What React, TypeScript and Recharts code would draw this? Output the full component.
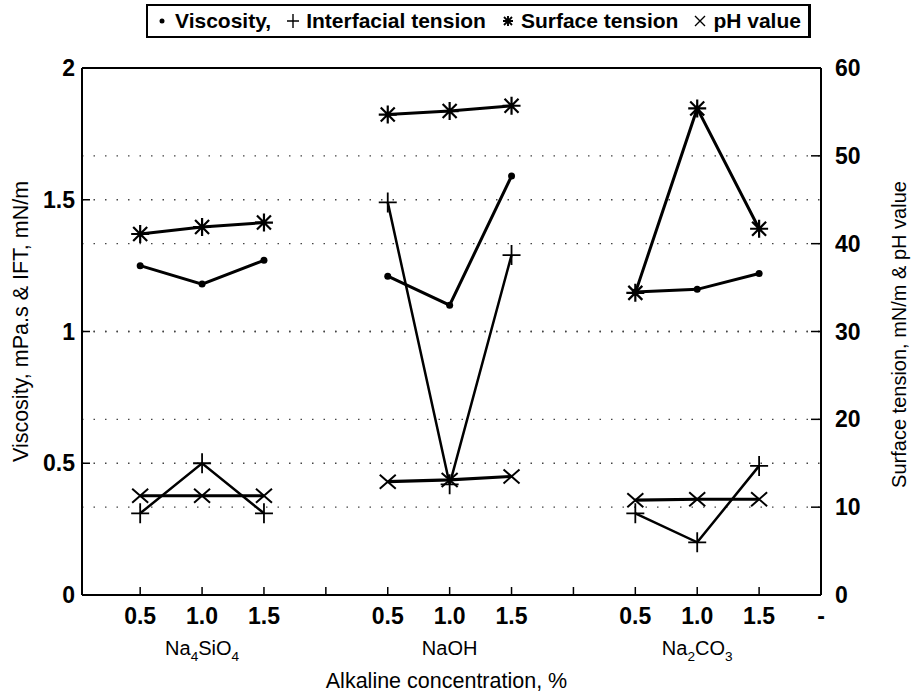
import React from 'react';
import { LineChart, Line, XAxis, YAxis, CartesianGrid, ReferenceLine, Legend } from 'recharts';

const FONT = "'Liberation Sans', Arial, Helvetica, sans-serif";

// ---- data ----
const concentrationLabels = ['0.5', '1.0', '1.5'];
const alkaliNames = ['Na4SiO4', 'NaOH', 'Na2CO3'];
const viscosity = [
  [1.25, 1.18, 1.27],
  [1.21, 1.1, 1.59],
  [1.15, 1.16, 1.22],
];
const interfacialTension = [
  [0.31, 0.5, 0.31],
  [1.49, 0.42, 1.29],
  [0.31, 0.2, 0.49],
];
const surfaceTension = [
  [41.1, 41.9, 42.4],
  [54.7, 55.1, 55.7],
  [34.4, 55.4, 41.7],
];
const phValue = [
  [11.3, 11.3, 11.3],
  [12.9, 13.1, 13.5],
  [10.8, 10.9, 10.9],
];
const leftTicks = [0, 0.5, 1, 1.5, 2];
const rightTicks = [0, 10, 20, 30, 40, 50, 60];
const endTickLabel = '-';

// ---- derived table ----
type Row = { x: number; visc: number | null; ift: number | null; st: number | null; ph: number | null };
const data: Row[] = [];
const xTickLabels: Record<number, string> = {};
const groupCenters: Record<number, string> = {};
alkaliNames.forEach((name, g) => {
  concentrationLabels.forEach((c, i) => {
    const x = g * 4 + i + 1;
    xTickLabels[x] = c;
    data.push({
      x,
      visc: viscosity[g][i],
      ift: interfacialTension[g][i],
      st: surfaceTension[g][i],
      ph: phValue[g][i],
    });
  });
  groupCenters[g * 4 + 2] = name;
  const gap = g * 4 + 4;
  xTickLabels[gap] = gap === alkaliNames.length * 4 ? endTickLabel : '';
  if (g < alkaliNames.length - 1) data.push({ x: gap, visc: null, ift: null, st: null, ph: null });
});
const xTicks = Object.keys(xTickLabels).map(Number).sort((a, b) => a - b);

// ---- helpers ----
function chem(name: string, fs: number) {
  const parts = name.split(/(\d+)/).filter((p) => p.length > 0);
  const out: React.ReactNode[] = [];
  let shifted = false;
  parts.forEach((p, k) => {
    if (/^\d+$/.test(p)) {
      out.push(
        <tspan key={k} dy={fs * 0.3} fontSize={fs * 0.68}>
          {p}
        </tspan>
      );
      shifted = true;
    } else {
      out.push(
        <tspan key={k} dy={shifted ? -fs * 0.3 : 0}>
          {p}
        </tspan>
      );
      shifted = false;
    }
  });
  return out;
}

type Kind = 'dot' | 'plus' | 'star' | 'cross';

function markerShape(kind: Kind, cx: number, cy: number, key?: string) {
  if (kind === 'dot') return <circle key={key} cx={cx} cy={cy} r={3.5} fill="#000" />;
  if (kind === 'plus')
    return (
      <path key={key} d={`M${cx - 9},${cy}H${cx + 9}M${cx},${cy - 10}V${cy + 10}`} stroke="#000" strokeWidth={1.8} fill="none" />
    );
  if (kind === 'cross')
    return (
      <path key={key} d={`M${cx - 8},${cy - 7}L${cx + 8},${cy + 7}M${cx + 8},${cy - 7}L${cx - 8},${cy + 7}`} stroke="#000" strokeWidth={2} fill="none" />
    );
  return (
    <path
      key={key}
      d={`M${cx - 9},${cy}H${cx + 9}M${cx},${cy - 9}V${cy + 9}M${cx - 7},${cy - 7}L${cx + 7},${cy + 7}M${cx + 7},${cy - 7}L${cx - 7},${cy + 7}`}
      stroke="#000"
      strokeWidth={2.2}
      fill="none"
    />
  );
}

const makeDot = (kind: Kind) => (p: any) => {
  const k = `${kind}-${p.index}`;
  if (p.cx == null || p.cy == null || p.value == null) return <g key={k} />;
  return markerShape(kind, p.cx, p.cy, k);
};

const XTick = (props: any) => {
  const { x, y, payload } = props;
  const v = payload.value as number;
  const label = xTickLabels[v] ?? '';
  const group = groupCenters[v];
  return (
    <g>
      <text x={x} y={y} dy="0.71em" textAnchor="middle" fontFamily={FONT} fontWeight={700} fontSize={23} fill="#000">
        {label}
      </text>
      {group ? (
        <text x={x} y={y + 47} textAnchor="middle" fontFamily={FONT} fontSize={20} fill="#000">
          {chem(group, 20)}
        </text>
      ) : null}
    </g>
  );
};

const LeftTitle = (props: any) => {
  const vb = props.viewBox || { x: 0, y: 68, width: 82, height: 527 };
  const cx = vb.x + 21;
  const cy = vb.y + vb.height / 2 - 10;
  return (
    <text x={cx} y={cy} transform={`rotate(-90 ${cx} ${cy})`} textAnchor="middle" dominantBaseline="central" fontFamily={FONT} fontSize={21.5} fill="#000">
      Viscosity, mPa.s &amp; IFT, mN/m
    </text>
  );
};

const RightTitle = (props: any) => {
  const vb = props.viewBox || { x: 821, y: 68, width: 91, height: 527 };
  const cx = vb.x + 78;
  const cy = vb.y + vb.height / 2 + 3;
  return (
    <text x={cx} y={cy} transform={`rotate(-90 ${cx} ${cy})`} textAnchor="middle" dominantBaseline="central" fontFamily={FONT} fontSize={20} fill="#000">
      Surface tension, mN/m &amp; pH value
    </text>
  );
};

const BottomTitle = (props: any) => {
  const vb = props.viewBox || { x: 82, y: 595, width: 739, height: 100 };
  return (
    <text x={vb.x + vb.width / 2 - 5} y={vb.y + 86} textAnchor="middle" dominantBaseline="central" fontFamily={FONT} fontSize={21.5} fill="#000">
      Alkaline concentration, %
    </text>
  );
};

const legendItems: { kind: Kind; label: string }[] = [
  { kind: 'dot', label: 'Viscosity,' },
  { kind: 'plus', label: 'Interfacial tension' },
  { kind: 'star', label: 'Surface tension' },
  { kind: 'cross', label: 'pH value' },
];

const LegendBox = () => (
  <div
    style={{
      width: '100%',
      height: '100%',
      boxSizing: 'border-box',
      border: '2px solid #000',
      borderRightWidth: 3,
      display: 'flex',
      alignItems: 'center',
      justifyContent: 'center',
      gap: 15,
      fontFamily: FONT,
      fontWeight: 700,
      fontSize: 21,
      color: '#000',
      background: '#fff',
    }}
  >
    {legendItems.map((it) => (
      <span key={it.label} style={{ display: 'flex', alignItems: 'center', gap: 6 }}>
        <svg width={14} height={18} viewBox="-7 -9 14 18">
          {it.kind === 'dot' ? <circle cx={0} cy={0} r={2.5} fill="#000" /> : null}
          {it.kind === 'plus' ? <path d="M-6,0H6M0,-7V7" stroke="#000" strokeWidth={1.4} /> : null}
          {it.kind === 'star' ? <path d="M-5,0H5M0,-5V5M-4,-4L4,4M4,-4L-4,4" stroke="#000" strokeWidth={1.9} /> : null}
          {it.kind === 'cross' ? <path d="M-5,-5L5,5M5,-5L-5,5" stroke="#000" strokeWidth={1.4} /> : null}
        </svg>
        <span>{it.label}</span>
      </span>
    ))}
  </div>
);

export default function App() {
  return (
    <div style={{ position: 'absolute', left: 0, top: 0, width: 912, height: 695, background: '#fff' }}>
      <LineChart width={912} height={695} data={data} margin={{ top: 68, right: 0, bottom: 0, left: 0 }}>
        <CartesianGrid yAxisId="left" vertical={false} horizontal stroke="#444" strokeWidth={1.4} strokeDasharray="1.5 10" />
        <CartesianGrid yAxisId="right" vertical={false} horizontal stroke="#444" strokeWidth={1.4} strokeDasharray="1.5 10" />
        <XAxis
          dataKey="x"
          type="number"
          domain={[0.06, 12]}
          ticks={xTicks}
          interval={0}
          allowDataOverflow
          height={100}
          tickSize={-8}
          tickMargin={21}
          tick={<XTick />}
          tickLine={{ stroke: '#000', strokeWidth: 1.5 }}
          axisLine={{ stroke: '#000', strokeWidth: 2 }}
          label={<BottomTitle />}
        />
        <YAxis
          yAxisId="left"
          orientation="left"
          width={82}
          domain={[0, 2]}
          ticks={leftTicks}
          interval={0}
          tickSize={-8}
          tickMargin={15}
          tick={{ fontFamily: FONT, fontWeight: 700, fontSize: 23, fill: '#000' }}
          tickLine={{ stroke: '#000', strokeWidth: 1.5 }}
          axisLine={{ stroke: '#000', strokeWidth: 2 }}
          label={<LeftTitle />}
        />
        <YAxis
          yAxisId="right"
          orientation="right"
          width={91}
          domain={[0, 60]}
          ticks={rightTicks}
          interval={0}
          tickSize={-10}
          tickMargin={24}
          tick={{ fontFamily: FONT, fontWeight: 700, fontSize: 23, fill: '#000' }}
          tickLine={{ stroke: '#000', strokeWidth: 1.5 }}
          axisLine={{ stroke: '#000', strokeWidth: 2 }}
          label={<RightTitle />}
        />
        <ReferenceLine yAxisId="left" y={2} stroke="#000" strokeWidth={2} />
        <Legend
          layout="horizontal"
          verticalAlign="middle"
          align="center"
          content={<LegendBox />}
          wrapperStyle={{ left: 146, top: 4, width: 665, height: 34 }}
        />
        <Line yAxisId="left" dataKey="visc" name="Viscosity" stroke="#000" strokeWidth={3} dot={makeDot('dot')} activeDot={false} isAnimationActive={false} connectNulls={false} />
        <Line yAxisId="left" dataKey="ift" name="Interfacial tension" stroke="#000" strokeWidth={2.5} dot={makeDot('plus')} activeDot={false} isAnimationActive={false} connectNulls={false} />
        <Line yAxisId="right" dataKey="st" name="Surface tension" stroke="#000" strokeWidth={3} dot={makeDot('star')} activeDot={false} isAnimationActive={false} connectNulls={false} />
        <Line yAxisId="right" dataKey="ph" name="pH value" stroke="#000" strokeWidth={3.2} dot={makeDot('cross')} activeDot={false} isAnimationActive={false} connectNulls={false} />
      </LineChart>
    </div>
  );
}
